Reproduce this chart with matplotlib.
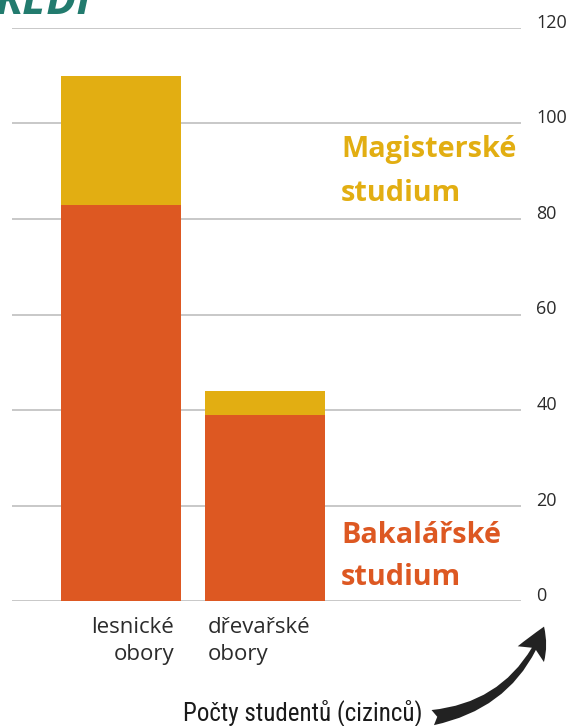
import matplotlib
matplotlib.use("Agg")
import matplotlib.pyplot as plt
from matplotlib.patches import FancyArrowPatch

categories = ["lesnické\nobory", "dřevařské\nobory"]
bakalarske = [83, 39]
magisterske = [27, 5]
yticks = [0, 20, 40, 60, 80, 100, 120]

ORANGE = "#dd5822"
YELLOW = "#e2ae12"
TEAL = "#227b6e"
GRID = "#c4c4c4"
TXT = "#2b2b2b"

plt.rcParams['font.family'] = ['Open Sans', 'DejaVu Sans']

W, H = 572, 726
fig = plt.figure(figsize=(W / 100, H / 100), dpi=100)
ax = fig.add_axes([12 / W, 1 - 601 / H, (520.5 - 12) / W, (601 - 28) / H])

x = list(range(len(categories)))
bw = 120 / 144
ax.bar(x, bakalarske, width=bw, color=ORANGE, zorder=2, linewidth=0)
ax.bar(x, magisterske, width=bw, bottom=bakalarske, color=YELLOW, zorder=2, linewidth=0)

ax.set_xlim(-109 / 144, (520.5 - 121) / 144)
ax.set_ylim(0, 120)
ax.set_yticks(yticks)
ax.yaxis.tick_right()
ax.tick_params(axis='y', length=0, pad=11.5, labelsize=13, labelcolor=TXT)
for lab in ax.get_yticklabels():
    lab.set_verticalalignment('baseline')
ax.set_xticks([])
ax.grid(axis='y', color=GRID, linewidth=1.3, zorder=0)
for s in ax.spines.values():
    s.set_visible(False)

# category labels
xt = ax.get_xaxis_transform()
ax.text(x[0] + bw / 2 - 7 / 144, -0.028, categories[0], transform=xt, ha='right',
        va='top', multialignment='right', fontsize=16, color=TXT, linespacing=1.4)
ax.text(x[1] - bw / 2 + 3 / 144, -0.028, categories[1], transform=xt, ha='left',
        va='top', multialignment='left', fontsize=16, color=TXT, linespacing=1.4)

# series labels
for txt, yb, col in [("Magisterské", 157, YELLOW), ("studium", 201, YELLOW),
                     ("Bakalářské", 543, ORANGE), ("studium", 585, ORANGE)]:
    fig.text(341 / W, 1 - yb / H, txt, color=col, fontsize=20.8,
             fontweight='bold', ha='left', va='baseline')

# cropped heading
fig.text(92 / W, 1 - 14 / H, "REDI", color=TEAL, fontsize=32, fontweight='bold',
         fontstyle='italic', ha='right', va='baseline')

# axis caption
fig.text(183 / W, 1 - 720 / H, "Počty studentů (cizinců)", color="#1a1a1a", fontsize=18,
         family=['Roboto Condensed', 'Liberation Sans Narrow', 'DejaVu Sans Condensed', 'Roboto'],
         fontstretch='condensed', ha='left', va='baseline')

arrow = FancyArrowPatch((430 / W, 1 - 718 / H), (545 / W, 1 - 624 / H),
                        transform=fig.transFigure,
                        connectionstyle="arc3,rad=0.3",
                        arrowstyle="fancy,head_length=1.1,head_width=1.1,tail_width=0.55",
                        mutation_scale=20, color="#222222", lw=0)
fig.add_artist(arrow)

fig.savefig("out.png", dpi=100)
